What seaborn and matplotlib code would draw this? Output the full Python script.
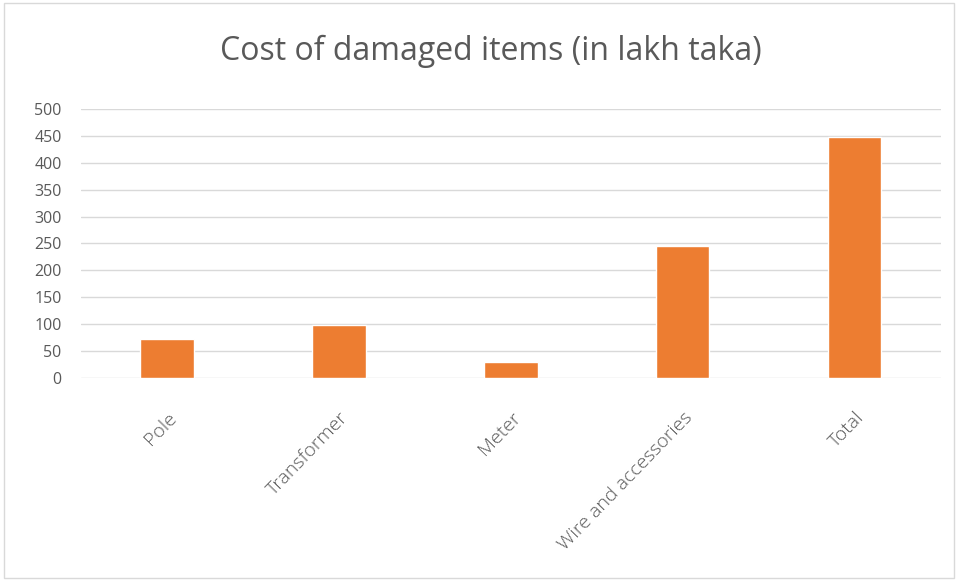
import matplotlib
matplotlib.use("Agg")
import matplotlib.pyplot as plt
import seaborn as sns
import pandas as pd

categories = ["Pole", "Transformer", "Meter", "Wire and accessories", "Total"]
values = [72, 98, 31, 246, 447]
yticks = [0, 50, 100, 150, 200, 250, 300, 350, 400, 450, 500]

sns.set_theme(style="white")
plt.rcParams['font.family'] = ['Open Sans', 'DejaVu Sans']

df = pd.DataFrame({"item": categories, "cost": values})

fig = plt.figure(figsize=(9.58, 5.8), dpi=100)
ax = fig.add_axes([0.0846, 0.3478, 0.8974, 0.4648])
sns.barplot(data=df, x="item", y="cost", color="#ED7D31", width=0.31,
            saturation=1, ax=ax)
ax.set_ylim(0, 500)
ax.set_yticks(yticks)
ax.set_yticklabels([str(v) for v in yticks])
ax.yaxis.grid(True, color="#D9D9D9", linewidth=1)
ax.set_axisbelow(True)
for s in ax.spines.values():
    s.set_visible(False)
ax.set_xlabel("")
ax.set_ylabel("")
ax.tick_params(axis="y", colors="#595959", labelsize=11.5, length=0, pad=14)
ax.tick_params(axis="x", colors="#595959", labelsize=14, length=0, pad=22)
for lbl in ax.get_xticklabels():
    lbl.set_rotation(46)
    lbl.set_ha("right")
    lbl.set_rotation_mode("anchor")
    lbl.set_fontweight("light")
for lbl in ax.get_yticklabels():
    lbl.set_ha("right")
ax.set_xlim(-0.5, 4.5)

fig.text(0.512, 0.912, "Cost of damaged items (in lakh taka)", ha="center",
         va="center", fontsize=23, color="#595959")

border = plt.Rectangle((0.004, 0.004), 0.992, 0.99, transform=fig.transFigure,
                       fill=False, edgecolor="#D9D9D9", linewidth=1)
fig.patches.append(border)

fig.savefig("out.png", dpi=100)
